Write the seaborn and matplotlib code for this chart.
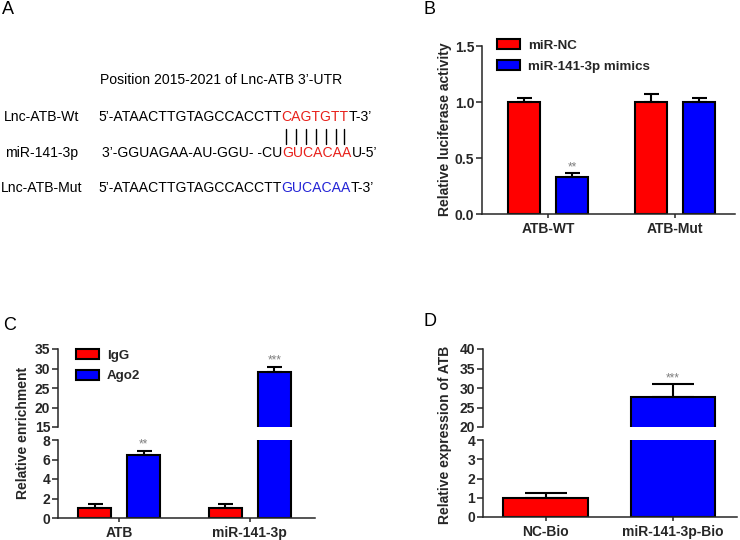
import numpy as np
import pandas as pd
import matplotlib
matplotlib.use("Agg")
import matplotlib.pyplot as plt
import seaborn as sns
from matplotlib.patches import Patch
from matplotlib.lines import Line2D

# ---- panel A : sequence alignment ----
seq_title = "Position 2015-2021 of Lnc-ATB 3\u2019-UTR"
seq_labels = ["Lnc-ATB-Wt", "miR-141-3p", "Lnc-ATB-Mut"]
wt_parts = [("5\u2019-ATAACTTGTAGCCACCTT", "black"), ("CAGTGTT", "#e8211b"), ("T-3\u2019", "black")]
mir_parts = [("3\u2019-GGUAGAA-AU-GGU- -CU", "black"), ("GUCACAA", "#e8211b"), ("U-5\u2019", "black")]
mut_parts = [("5\u2019-ATAACTTGTAGCCACCTT", "black"), ("GUCACAA", "#2424d6"), ("T-3\u2019", "black")]

# ---- panel B : luciferase ----
b_groups = ["ATB-WT", "ATB-Mut"]
b_series = ["miR-NC", "miR-141-3p mimics"]
b_nc = [1.0, 1.0]
b_nc_err = [0.035, 0.07]
b_mim = [0.33, 1.0]
b_mim_err = [0.035, 0.04]
b_mim_sig = ["**", ""]

# ---- panel C : RIP ----
c_groups = ["ATB", "miR-141-3p"]
c_series = ["IgG", "Ago2"]
c_igg = [1.0, 1.0]
c_igg_err = [0.4, 0.4]
c_ago2 = [6.5, 29.0]
c_ago2_err = [0.4, 1.5]
c_ago2_sig = ["**", "***"]

# ---- panel D : pull-down ----
d_groups = ["NC-Bio", "miR-141-3p-Bio"]
d_vals = [1.0, 27.6]
d_err = [0.23, 3.4]
d_sig = ["", "***"]

RED = "#ff0000"
BLUE = "#0000ff"
W, H = 740, 540

sns.set_style("ticks")
plt.rcParams["font.family"] = ["Liberation Sans", "DejaVu Sans"]
plt.rcParams["font.weight"] = "bold"
plt.rcParams["axes.labelweight"] = "bold"
plt.rcParams["axes.linewidth"] = 1.1
plt.rcParams["xtick.major.width"] = 1.1
plt.rcParams["ytick.major.width"] = 1.1
plt.rcParams["ytick.minor.width"] = 1.1

fig = plt.figure(figsize=(W / 100, H / 100), dpi=100)


def rect(x0, y0, x1, y1):
    # pixel box (top-left origin) -> figure fraction
    return [x0 / W, 1 - y1 / H, (x1 - x0) / W, (y1 - y0) / H]


def long_df(groups, series, vals, errs, sigs):
    rows = []
    for s, v, e, g in zip(series, vals, errs, sigs):
        for i, grp in enumerate(groups):
            rows.append({"group": grp, "series": s, "value": v[i], "err": e[i], "sig": g[i]})
    return pd.DataFrame(rows)


def draw_bars(ax, df, groups, hue_order, palette, width, gap, cap):
    sns.barplot(data=df, x="group", y="value", hue="series", order=groups,
                hue_order=hue_order, palette=palette, width=width, gap=gap,
                edgecolor="black", linewidth=1.5, errorbar=None, legend=False,
                saturation=1, ax=ax)
    xs = [p.get_x() + p.get_width() / 2 for p in ax.patches]
    ax.errorbar(xs, df["value"], yerr=[np.zeros(len(df)), df["err"]], fmt="none",
                ecolor="black", elinewidth=1.5, capsize=cap, capthick=1.5)
    for x, (_, r) in zip(xs, df.iterrows()):
        if r["sig"]:
            ax.annotate(r["sig"], (x, r["value"] + r["err"]), xytext=(0, 0),
                        textcoords="offset points", ha="center", va="bottom",
                        color="#7f7f7f", fontsize=8.5, fontweight="normal")


def style(ax, xlim, ylim, yticks, bottom=True, brk=None):
    ax.set_xlim(*xlim)
    ax.set_ylim(*ylim)
    ax.set_yticks(yticks)
    ax.set_xlabel("")
    ax.set_ylabel("")
    sns.despine(ax=ax, bottom=not bottom)
    ax.tick_params(axis="y", length=4.5, labelsize=10, pad=1)
    if brk is not None:
        # longer crossing tick at the axis break
        ax.set_yticks([brk], minor=True)
        ax.tick_params(axis="y", which="minor", direction="inout", length=9)
    if bottom:
        ax.tick_params(axis="x", length=3, labelsize=10, pad=3)
    else:
        ax.tick_params(axis="x", bottom=False, labelbottom=False)


def legend(ax, labels, colors, anchor):
    handles = [Patch(facecolor=c, edgecolor="black", linewidth=1.5) for c in colors]
    ax.legend(handles, labels, loc="upper left", bbox_to_anchor=anchor, frameon=False,
              fontsize=9.6, handlelength=1.7, handleheight=0.8, handletextpad=0.6,
              labelspacing=0.6, borderaxespad=0, borderpad=0)


# ---- B ----
axb = fig.add_axes(rect(482, 46, 735, 214))
df_b = long_df(b_groups, b_series, [b_nc, b_mim], [b_nc_err, b_mim_err], [["", ""], b_mim_sig])
draw_bars(axb, df_b, b_groups, b_series, [RED, BLUE], 0.75, 0.33, 5.4)
style(axb, (-0.52, 1.47), (0, 1.5), [0, 0.5, 1.0, 1.5])
axb.set_yticklabels(["0.0", "0.5", "1.0", "1.5"])
legend(axb, b_series, [RED, BLUE], (0.06, 1.04))
fig.text(445 / W, 1 - 129 / H, "Relative luciferase activity", rotation=90,
         ha="center", va="center", fontsize=10)

# ---- C (broken axis) ----
df_c = long_df(c_groups, c_series, [c_igg, c_ago2], [c_igg_err, c_ago2_err], [["", ""], c_ago2_sig])
axc_top = fig.add_axes(rect(58, 349, 315, 427))
axc_bot = fig.add_axes(rect(58, 440, 315, 518))
for ax in (axc_top, axc_bot):
    draw_bars(ax, df_c, c_groups, c_series, [RED, BLUE], 0.75, 0.33, 5.4)
style(axc_top, (-0.47, 1.5), (15, 35), [15, 20, 25, 30, 35], bottom=False, brk=15)
style(axc_bot, (-0.47, 1.5), (0, 8), [0, 2, 4, 6, 8], brk=8)
legend(axc_top, c_series, [RED, BLUE], (0.07, 1.0))
fig.text(23 / W, 1 - 433 / H, "Relative enrichment", rotation=90,
         ha="center", va="center", fontsize=10)

# ---- D (broken axis) ----
df_d = long_df(d_groups, ["x"], [d_vals], [d_err], [d_sig])
df_d["series"] = df_d["group"]
axd_top = fig.add_axes(rect(483, 349, 737, 427))
axd_bot = fig.add_axes(rect(483, 440, 737, 517))
for ax in (axd_top, axd_bot):
    draw_bars(ax, df_d, d_groups, d_groups, [RED, BLUE], 0.66, 0, 15)
style(axd_top, (-0.49, 1.5), (20, 40), [20, 25, 30, 35, 40], bottom=False, brk=20)
style(axd_bot, (-0.49, 1.5), (0, 4), [0, 1, 2, 3, 4], brk=4)
fig.text(445 / W, 1 - 435 / H, "Relative expression of ATB", rotation=90,
         ha="center", va="center", fontsize=10)

# ---- A (text panel) ----
fig.canvas.draw()
rend = fig.canvas.get_renderer()
seq_size = 10.1
prop = matplotlib.font_manager.FontProperties(family=["Liberation Sans"], weight="normal", size=seq_size)


def tw(s):
    return rend.get_text_width_height_descent(s, prop, ismath=False)[0]


def put(x, y, s, color="black", size=seq_size, ha="left"):
    fig.text(x / W, 1 - y / H, s, color=color, fontsize=size, fontweight="normal",
             ha=ha, va="center")


def put_row(x, y, parts):
    starts = []
    for s, c in parts:
        put(x, y, s, c)
        starts.append(x)
        x += tw(s)
    return starts


put(100, 80, seq_title)
ys = [117, 153, 188]
for lab, y in zip(seq_labels, ys):
    put(42, y, lab, ha="center")
wt_starts = put_row(98, ys[0], wt_parts)
put_row(102, ys[1], mir_parts)
put_row(98, ys[2], mut_parts)

seg = wt_parts[1][0]
for i in range(len(seg)):
    cx = wt_starts[1] + tw(seg[:i]) + tw(seg[i]) / 2
    fig.add_artist(Line2D([cx / W, cx / W], [1 - 129 / H, 1 - 144 / H], color="black", lw=1.0))

# panel letters
for letter, (x, y) in zip("ABCD", [(2, 10), (423, 10), (3, 325), (423, 322)]):
    put(x, y, letter, size=13)

fig.savefig("out.png", dpi=100, facecolor="white")
